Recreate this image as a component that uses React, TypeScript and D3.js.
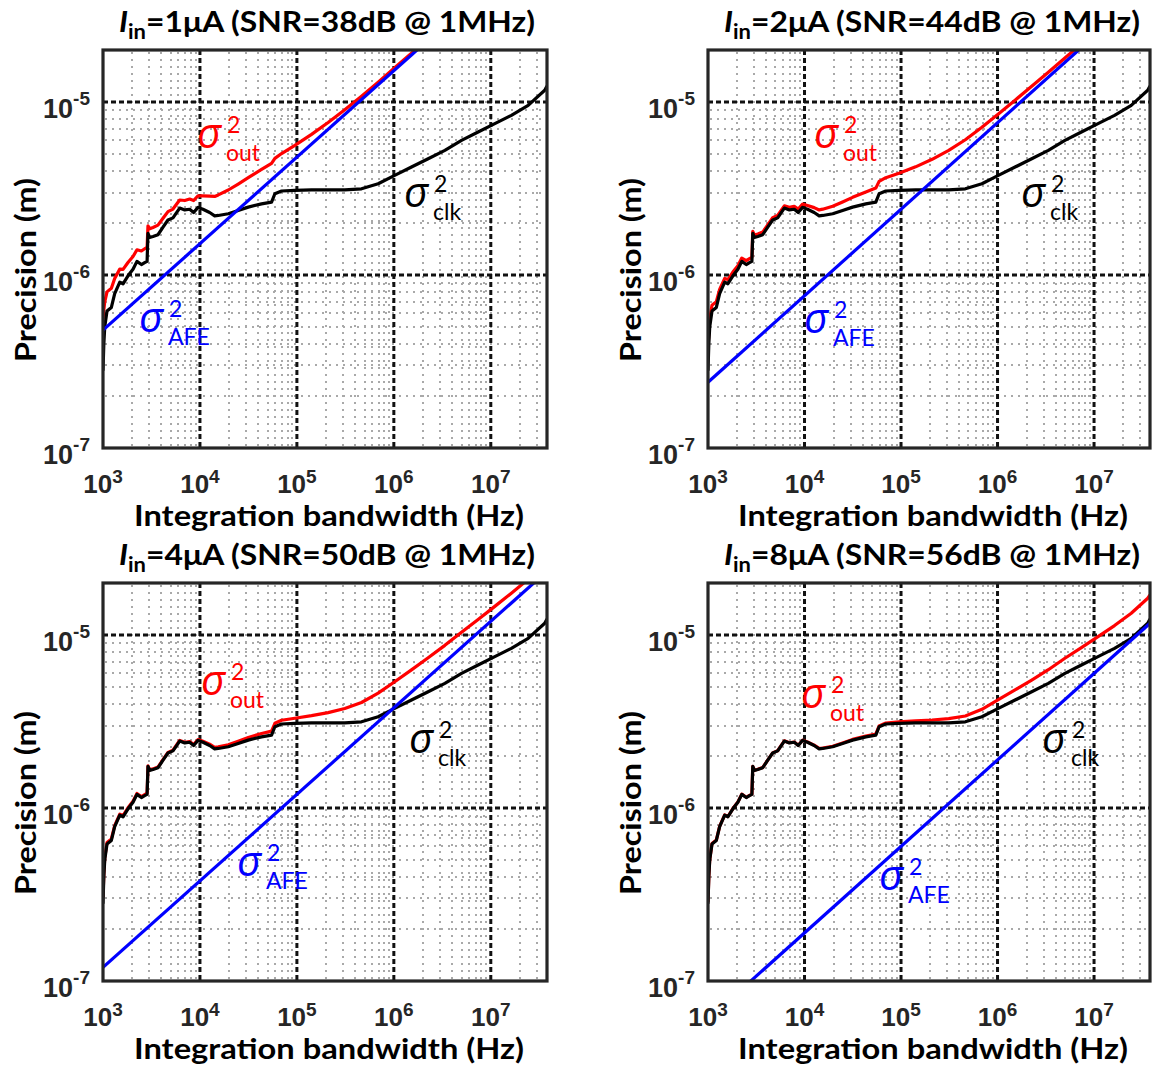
import React from "react";
import * as d3 from "d3";

// ---------- data ----------
const currents = ["1μA", "2μA", "4μA", "8μA"];
const snrDb = [38, 44, 50, 56];
const xTickExps = [3, 4, 5, 6, 7];
const yTickExps = [-7, -6, -5];

// clock-noise limited precision (same in all panels)
const clkFreq = [
  1000, 1020, 1042, 1100, 1220, 1320, 1490, 1610, 1810, 2040, 2240, 2490, 2690, 2850, 2910, 3030,
  3280, 3690, 4160, 4680, 5270, 6180, 6970, 7830, 8610, 9550, 10740, 12590, 14190, 15460, 19600,
  24800, 31500, 43200, 54800, 59300, 69500, 95300, 141600, 210000, 312000, 464000, 689000,
  1.02e6, 1.52e6, 2.26e6, 3.36e6, 4.99e6, 7.4e6, 1.1e7, 1.63e7, 2.43e7, 3.6e7, 3.8e7,
];
const clkPrecision = [
  2.8e-7, 4.0e-7, 5.0e-7, 6.2e-7, 6.5e-7, 7.8e-7, 9.1e-7, 8.9e-7, 9.9e-7, 1.08e-6, 1.2e-6, 1.15e-6,
  1.18e-6, 1.2e-6, 1.74e-6, 1.65e-6, 1.67e-6, 1.71e-6, 1.89e-6, 2.08e-6, 2.14e-6, 2.44e-6, 2.38e-6,
  2.4e-6, 2.3e-6, 2.46e-6, 2.4e-6, 2.3e-6, 2.2e-6, 2.21e-6, 2.26e-6, 2.36e-6, 2.47e-6, 2.58e-6,
  2.64e-6, 2.95e-6, 3.06e-6, 3.09e-6, 3.11e-6, 3.11e-6, 3.11e-6, 3.15e-6, 3.37e-6, 3.77e-6,
  4.21e-6, 4.7e-6, 5.26e-6, 6.0e-6, 6.71e-6, 7.5e-6, 8.38e-6, 9.57e-6, 1.17e-5, 1.24e-5,
];

// total output precision, per input current (same frequency grid as clk)
const out1uA = [
  5.56e-7, 6.29e-7, 7.0e-7, 7.99e-7, 8.39e-7, 9.55e-7, 1.082e-6, 1.078e-6, 1.182e-6, 1.279e-6,
  1.399e-6, 1.377e-6, 1.418e-6, 1.448e-6, 1.923e-6, 1.85e-6, 1.883e-6, 1.943e-6, 2.128e-6,
  2.325e-6, 2.407e-6, 2.716e-6, 2.696e-6, 2.75e-6, 2.697e-6, 2.872e-6, 2.87e-6, 2.862e-6,
  2.848e-6, 2.906e-6, 3.102e-6, 3.359e-6, 3.655e-6, 4.076e-6, 4.427e-6, 4.729e-6, 5.038e-6,
  5.613e-6, 6.504e-6, 7.619e-6, 9.029e-6, 1.081e-5, 1.304e-5, 1.579e-5, 1.919e-5, 2.33e-5,
  2.83e-5, 3.44e-5, 4.18e-5, 5.09e-5, 6.19e-5, 7.54e-5, 9.18e-5, 9.44e-5,
];
const out2uA = [
  3.69e-7, 4.68e-7, 5.57e-7, 6.69e-7, 7.02e-7, 8.27e-7, 9.56e-7, 9.41e-7, 1.041e-6, 1.133e-6,
  1.253e-6, 1.211e-6, 1.244e-6, 1.266e-6, 1.788e-6, 1.702e-6, 1.726e-6, 1.771e-6, 1.952e-6,
  2.144e-6, 2.21e-6, 2.512e-6, 2.463e-6, 2.492e-6, 2.405e-6, 2.569e-6, 2.525e-6, 2.453e-6,
  2.379e-6, 2.403e-6, 2.497e-6, 2.645e-6, 2.813e-6, 3.024e-6, 3.182e-6, 3.481e-6, 3.656e-6,
  3.878e-6, 4.222e-6, 4.666e-6, 5.257e-6, 6.054e-6, 7.145e-6, 8.543e-6, 1.026e-5, 1.234e-5,
  1.487e-5, 1.798e-5, 2.17e-5, 2.627e-5, 3.177e-5, 3.862e-5, 4.701e-5, 4.84e-5,
];
const out4uA = [
  3.05e-7, 4.18e-7, 5.15e-7, 6.33e-7, 6.63e-7, 7.92e-7, 9.22e-7, 9.03e-7, 1.003e-6, 1.094e-6,
  1.213e-6, 1.165e-6, 1.196e-6, 1.217e-6, 1.752e-6, 1.663e-6, 1.684e-6, 1.725e-6, 1.906e-6,
  2.096e-6, 2.158e-6, 2.458e-6, 2.401e-6, 2.423e-6, 2.327e-6, 2.488e-6, 2.432e-6, 2.339e-6,
  2.246e-6, 2.26e-6, 2.322e-6, 2.434e-6, 2.56e-6, 2.698e-6, 2.785e-6, 3.091e-6, 3.219e-6,
  3.305e-6, 3.422e-6, 3.563e-6, 3.763e-6, 4.075e-6, 4.613e-6, 5.376e-6, 6.294e-6, 7.392e-6,
  8.721e-6, 1.039e-5, 1.231e-5, 1.465e-5, 1.746e-5, 2.102e-5, 2.559e-5, 2.647e-5,
];
const out8uA = [
  2.86e-7, 4.05e-7, 5.04e-7, 6.23e-7, 6.53e-7, 7.83e-7, 9.13e-7, 8.93e-7, 9.93e-7, 1.083e-6,
  1.203e-6, 1.154e-6, 1.184e-6, 1.204e-6, 1.743e-6, 1.653e-6, 1.674e-6, 1.714e-6, 1.894e-6,
  2.084e-6, 2.144e-6, 2.445e-6, 2.385e-6, 2.406e-6, 2.307e-6, 2.467e-6, 2.408e-6, 2.31e-6,
  2.212e-6, 2.223e-6, 2.276e-6, 2.379e-6, 2.493e-6, 2.61e-6, 2.677e-6, 2.986e-6, 3.101e-6,
  3.145e-6, 3.191e-6, 3.229e-6, 3.286e-6, 3.405e-6, 3.72e-6, 4.229e-6, 4.816e-6, 5.498e-6,
  6.306e-6, 7.346e-6, 8.465e-6, 9.791e-6, 1.135e-5, 1.338e-5, 1.632e-5, 1.704e-5,
];

// analog front-end limited precision (straight lines, end points)
const afeFreq = [1e3, 3.8e7];
const afe1uA = [4.8e-7, 9.36e-5];
const afe2uA = [2.4e-7, 4.68e-5];
const afe4uA = [1.2e-7, 2.34e-5];
const afe8uA = [6.0e-8, 1.17e-5];

const outSeries = [out1uA, out2uA, out4uA, out8uA];
const afeSeries = [afe1uA, afe2uA, afe4uA, afe8uA];

// ---------- layout ----------
const X_DOMAIN = [1e3, 3.8e7];
const Y_DOMAIN = [1e-7, 2e-5];
const PLOT_H = 398;

const layout = [
  { left: 103, top: 50, width: 444, out: [95, 98], afe: [37, 282], clk: [302, 157] },
  { left: 708, top: 50, width: 442, out: [107, 98], afe: [97, 283], clk: [314, 157] },
  { left: 103, top: 583, width: 444, out: [99, 112], afe: [135, 293], clk: [307, 170] },
  { left: 708, top: 583, width: 442, out: [94, 125], afe: [172, 307], clk: [335, 170] },
];

const LABEL_FONT = "Lato, 'Open Sans', sans-serif";
const TICK_FONT = "'Liberation Sans', Arial, sans-serif";
const SIG_FONT = "'Open Sans', 'Noto Sans', sans-serif";
const SUB_FONT = "Lato, 'Open Sans', sans-serif";

function minorValues(exps: number[], max: number) {
  const out: number[] = [];
  exps.forEach((e) => {
    for (let k = 2; k <= 9; k++) {
      const v = k * Math.pow(10, e);
      if (v < max) out.push(v);
    }
  });
  return out;
}

function SigmaLabel({ x, y, sub, color }: { x: number; y: number; sub: string; color: string }) {
  return (
    <g fill={color}>
      <text x={x - 1} y={y} fontFamily={SIG_FONT} fontSize={42} fontStyle="italic">σ</text>
      <text x={x + 29} y={y - 15} fontFamily={SUB_FONT} fontSize={23}>2</text>
      <text x={x + 28} y={y + 13} fontFamily={SUB_FONT} fontSize={23}>{sub}</text>
    </g>
  );
}

function Panel({ idx }: { idx: number }) {
  const L = layout[idx];
  const x = d3.scaleLog().domain(X_DOMAIN).range([0, L.width]);
  const y = d3.scaleLog().domain(Y_DOMAIN).range([PLOT_H, 0]);
  const line = d3
    .line<[number, number]>()
    .x((d) => x(d[0]))
    .y((d) => y(d[1]));

  const clkPts = clkFreq.map((f, i) => [f, clkPrecision[i]] as [number, number]);
  const outPts = clkFreq.map((f, i) => [f, outSeries[idx][i]] as [number, number]);
  const afePts = afeFreq.map((f, i) => [f, afeSeries[idx][i]] as [number, number]);

  const xMinor = minorValues([3, 4, 5, 6, 7], X_DOMAIN[1]);
  const yMinor = minorValues([-7, -6, -5], Y_DOMAIN[1]);
  const xMajor = xTickExps.filter((e) => e > 3).map((e) => Math.pow(10, e));
  const yMajor = yTickExps.filter((e) => e > -7).map((e) => Math.pow(10, e));
  const clipId = `clip-${idx}`;

  return (
    <g transform={`translate(${L.left},${L.top})`}>
      <defs>
        <clipPath id={clipId}>
          <rect x={0} y={0} width={L.width} height={PLOT_H} />
        </clipPath>
      </defs>
      <rect x={0} y={0} width={L.width} height={PLOT_H} fill="#fff" />
      {/* minor grid */}
      <g stroke="#a9a9a9" strokeWidth={2} strokeDasharray="2,5">
        {xMinor.map((v) => (
          <line key={"xm" + v} x1={Math.round(x(v))} x2={Math.round(x(v))} y1={2} y2={PLOT_H} />
        ))}
        {yMinor.map((v) => (
          <line key={"ym" + v} x1={2} x2={L.width} y1={Math.round(y(v))} y2={Math.round(y(v))} />
        ))}
      </g>
      {/* major grid */}
      <g stroke="#111" strokeWidth={3} strokeDasharray="5,3">
        {xMajor.map((v) => (
          <line key={"xM" + v} x1={x(v)} x2={x(v)} y1={0} y2={PLOT_H} />
        ))}
        {yMajor.map((v) => (
          <line key={"yM" + v} x1={0} x2={L.width} y1={y(v)} y2={y(v)} />
        ))}
      </g>
      {/* curves */}
      <g clipPath={`url(#${clipId})`} fill="none" strokeWidth={3.2} strokeLinejoin="round">
        <path d={line(outPts) || ""} stroke="#ff0000" />
        <path d={line(clkPts) || ""} stroke="#000" />
        <path d={line(afePts) || ""} stroke="#0000ff" />
      </g>
      {/* box */}
      <rect x={0} y={0} width={L.width} height={PLOT_H} fill="none" stroke="#262626" strokeWidth={3.2} />
      {/* y tick labels */}
      {yTickExps.map((e) => (
        <text
          key={"yt" + e}
          x={-13}
          y={y(Math.pow(10, e)) + 16}
          textAnchor="end"
          fontFamily={TICK_FONT}
          fontWeight="bold"
          fontSize={27}
          fill="#262626"
        >
          10
          <tspan fontSize={19} dy={-13}>{String(e)}</tspan>
        </text>
      ))}
      {/* x tick labels */}
      {xTickExps.map((e) => (
        <text
          key={"xt" + e}
          x={x(Math.pow(10, e))}
          y={PLOT_H + 45}
          textAnchor="middle"
          fontFamily={TICK_FONT}
          fontWeight="bold"
          fontSize={26}
          fill="#262626"
        >
          10
          <tspan fontSize={19} dy={-10}>{String(e)}</tspan>
        </text>
      ))}
      {/* axis labels */}
      <text
        x={L.width / 2 + 4}
        y={PLOT_H + 78}
        textAnchor="middle"
        fontFamily={LABEL_FONT}
        fontWeight="bold"
        fontSize={28}
        fill="#000"
        textLength={390}
        lengthAdjust="spacingAndGlyphs"
      >
        Integration bandwidth (Hz)
      </text>
      <text
        transform={`translate(-67,${PLOT_H / 2 + 21}) rotate(-90)`}
        textAnchor="middle"
        fontFamily={LABEL_FONT}
        fontWeight="bold"
        fontSize={28}
        fill="#000"
        textLength={184}
        lengthAdjust="spacingAndGlyphs"
      >
        Precision (m)
      </text>
      {/* title */}
      <text
        x={224}
        y={-18}
        textAnchor="middle"
        fontFamily={LABEL_FONT}
        fontWeight="bold"
        fontSize={29}
        fill="#000"
        textLength={416}
        lengthAdjust="spacingAndGlyphs"
      >
        <tspan fontStyle="italic">I</tspan>
        <tspan fontSize={20} dy={7}>in</tspan>
        <tspan dy={-7}>{`=${currents[idx]} (SNR=${snrDb[idx]}dB @ 1MHz)`}</tspan>
      </text>
      {/* series annotations */}
      <SigmaLabel x={L.out[0]} y={L.out[1]} sub="out" color="#ff0000" />
      <SigmaLabel x={L.afe[0]} y={L.afe[1]} sub="AFE" color="#0000ff" />
      <SigmaLabel x={L.clk[0]} y={L.clk[1]} sub="clk" color="#000" />
    </g>
  );
}

export default function App() {
  return (
    <svg
      width={1152}
      height={1074}
      viewBox="0 0 1152 1074"
      style={{ position: "absolute", left: 0, top: 0, background: "#fff" }}
    >
      <rect x={0} y={0} width={1152} height={1074} fill="#fff" />
      {layout.map((_, i) => (
        <Panel key={i} idx={i} />
      ))}
    </svg>
  );
}
